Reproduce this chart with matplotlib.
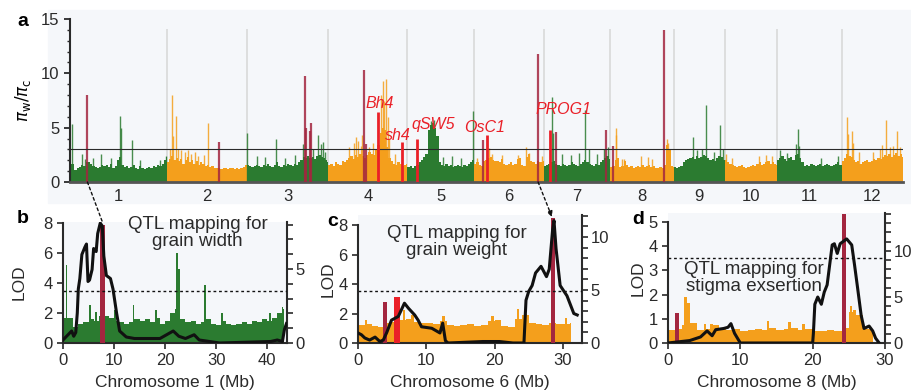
import numpy as np
import matplotlib.pyplot as plt
from matplotlib.patches import Rectangle, ConnectionPatch
from matplotlib.ticker import MultipleLocator, FuncFormatter

plt.rcParams['font.family'] = ['Liberation Sans', 'DejaVu Sans']
plt.rcParams['font.size'] = 11

GREEN = '#2b7b30'
ORANGE = '#f49f1c'
DARKRED = '#a3263f'
RED = '#ea2028'
BG = '#f5f7fa'
INK = '#2a2a2a'

# ---- genome scan data (pi_w / pi_c), 1-Mb bins plus narrow peaks ----
chrom_len = [43.3, 35.9, 36.4, 35.5, 29.9, 31.2, 29.7, 28.4, 23.0, 23.2, 29.0, 27.5]

chr1_base = [1.7, 1.7, 1.1, 1.3, 1.4, 1.6, 1.5, 1.8, 1.8, 1.7, 1.5, 1.4, 1.3, 1.4, 1.6,
             1.5, 1.6, 1.4, 1.7, 1.3, 1.5, 2.0, 2.3, 1.6, 1.4, 1.5, 1.3, 1.4, 1.6, 1.3,
             1.2, 1.5, 1.3, 1.2, 1.3, 1.4, 1.3, 1.5, 1.4, 1.6, 1.5, 1.7, 2.0, 2.3]
chr2_base = [1.8, 2.1, 2.4, 2.0, 2.2, 1.9, 2.1, 1.7, 2.0, 2.3, 1.8, 2.0, 1.7, 1.9, 1.6,
             1.8, 1.7, 1.5, 1.6, 1.4, 1.5, 1.3, 1.3, 1.3, 1.2, 1.3, 1.3, 1.2, 1.3, 1.3,
             1.2, 1.3, 1.2, 1.3, 1.4, 1.6]
chr3_base = [1.6, 1.5, 1.4, 1.5, 1.6, 1.5, 1.4, 1.6, 1.5, 1.7, 1.5, 1.4, 1.6, 1.8, 1.5,
             1.4, 1.6, 1.5, 1.7, 1.6, 1.5, 1.7, 1.6, 1.8, 2.0, 2.3, 2.2, 2.4, 2.2, 2.3,
             2.1, 2.4, 2.5, 2.3, 2.2, 2.0, 1.8]
chr4_base = [1.6, 1.7, 1.5, 1.8, 1.7, 1.6, 1.9, 1.8, 2.0, 2.2, 2.4, 2.1, 2.5, 2.3, 2.6,
             2.4, 2.2, 2.5, 2.8, 2.6, 2.5, 3.0, 3.4, 4.5, 5.0, 4.8, 3.2, 2.2, 1.9, 1.7,
             1.6, 1.8, 1.7, 1.5, 1.6, 1.7]
chr5_base = [1.4, 1.5, 1.3, 1.5, 1.6, 1.8, 2.0, 2.3, 2.6, 4.8, 5.2, 5.4, 5.0, 4.2, 1.8,
             1.6, 1.5, 1.7, 1.5, 1.6, 1.4, 1.5, 1.6, 1.5, 1.4, 1.6, 1.5, 1.7, 1.8, 2.0]
chr6_base = [1.7, 1.8, 1.6, 1.5, 1.9, 2.0, 2.2, 2.3, 2.0, 1.9, 1.9, 1.8, 2.1, 1.7, 1.6,
             1.7, 1.8, 1.6, 1.7, 2.1, 2.2, 1.6, 1.5, 2.3, 2.6, 1.9, 1.8, 1.7, 1.9, 1.8,
             1.8, 1.9]
chr7_base = [1.5, 1.6, 1.7, 1.8, 1.9, 1.7, 1.6, 1.5, 1.7, 1.6, 1.5, 1.6, 1.8, 1.7, 1.6,
             1.5, 1.7, 1.8, 2.0, 1.8, 1.7, 1.6, 1.5, 1.7, 1.6, 1.8, 2.0, 2.2, 2.4, 2.1]
chr8_base = [1.4, 1.5, 2.0, 2.2, 1.4, 1.5, 1.9, 1.6, 1.4, 1.5, 1.3, 1.4, 1.5, 1.4, 1.6,
             1.4, 1.5, 1.6, 1.4, 1.5, 1.3, 1.3, 1.4, 1.3, 1.6, 3.4, 3.0, 1.5, 1.4]
chr9_base = [1.4, 1.3, 1.4, 1.5, 1.8, 2.0, 2.1, 2.2, 2.3, 2.1, 2.4, 2.2, 2.3, 2.5, 2.4,
             2.2, 2.0, 2.1, 1.9, 2.2, 2.4, 2.3, 2.0]
chr10_base = [2.0, 1.8, 1.7, 1.6, 1.5, 1.4, 1.5, 1.6, 1.4, 1.3, 1.4, 1.5, 1.6, 1.5, 1.7,
              1.8, 1.6, 1.7, 1.8, 1.9, 1.7, 1.8, 1.7, 1.6]
chr11_base = [2.0, 2.2, 2.4, 2.1, 1.9, 2.2, 2.3, 2.0, 2.5, 2.6, 2.2, 1.8, 1.5, 1.6, 1.5,
              1.7, 1.6, 1.5, 1.6, 1.7, 1.5, 1.6, 1.7, 1.6, 1.5, 1.6, 1.7, 1.8, 1.6]
chr12_base = [1.9, 2.2, 2.6, 2.4, 2.3, 2.0, 1.8, 1.9, 1.7, 1.8, 1.9, 2.0, 1.8, 1.9, 2.1,
              2.0, 2.2, 2.1, 2.3, 2.5, 2.4, 2.6, 2.3, 2.5, 2.7, 2.4, 2.6, 2.3]

chr1_peaks = [(0.7, 5.3), (5.3, 2.6), (6.5, 2.1), (10.2, 2.2), (13.8, 2.6), (18.3, 2.2),
              (22.4, 6.1), (22.8, 5.0), (27.8, 3.9), (31.2, 2.0), (40.5, 2.0), (43.0, 2.4)]
chr2_peaks = [(1.5, 3.0), (2.2, 8.0), (3.0, 4.2), (4.0, 6.1), (5.2, 3.0), (6.5, 2.9),
              (8.0, 2.8), (9.5, 2.9), (11.0, 2.6), (12.5, 2.8), (14.0, 2.4), (16.5, 2.5),
              (18.3, 5.4)]
chr3_peaks = [(0.2, 4.5), (4.5, 2.4), (8.0, 2.3), (13.0, 4.0), (17.0, 2.2), (21.5, 2.5),
              (25.0, 3.5), (29.5, 3.0), (32.0, 4.3), (33.0, 3.5), (34.0, 3.7), (35.0, 2.8)]
chr4_peaks = [(9.5, 3.2), (11.5, 3.6), (12.6, 4.1), (13.5, 3.8), (14.5, 3.3), (15.2, 4.3),
              (18.5, 3.2), (20.0, 3.6), (23.8, 8.0), (24.6, 9.3), (25.2, 7.5), (26.0, 9.5),
              (26.6, 6.0), (27.3, 4.0), (30.0, 2.6)]
chr5_peaks = [(10.5, 5.6), (12.0, 5.7), (16.0, 2.3), (20.0, 2.4), (24.0, 2.2), (29.2, 6.5)]
chr6_peaks = [(1.2, 2.2), (6.7, 3.1), (8.0, 2.6), (12.5, 2.5), (19.7, 2.5), (23.4, 3.2),
              (24.5, 2.7), (30.5, 2.4)]
chr7_peaks = [(3.7, 7.8), (4.3, 4.5), (8.0, 2.6), (12.0, 2.5), (15.5, 2.7), (18.3, 6.6),
              (20.0, 3.0), (24.0, 2.6), (27.0, 3.0), (28.5, 3.2)]
chr8_peaks = [(2.4, 5.0), (2.8, 4.3), (5.1, 2.1), (6.0, 2.1), (13.8, 2.4), (16.8, 2.3),
              (18.7, 2.1), (25.3, 4.0), (25.8, 3.6)]
chr9_peaks = [(8.5, 4.1), (10.3, 2.9), (12.5, 3.0), (14.3, 7.1), (18.0, 2.8), (20.6, 5.2),
              (22.0, 3.0)]
chr10_peaks = [(0.5, 2.6), (3.0, 2.2), (15.0, 2.4), (18.5, 2.5), (21.0, 2.4)]
chr11_peaks = [(1.5, 2.9), (4.5, 2.7), (8.5, 3.5), (9.4, 4.9), (10.0, 3.3), (20.0, 2.2),
               (27.5, 2.4)]
chr12_peaks = [(2.3, 6.0), (3.0, 4.4), (4.5, 4.7), (5.2, 3.6), (8.0, 2.8), (14.0, 2.8),
               (17.0, 3.0), (18.3, 3.4), (19.7, 5.7), (21.5, 3.2), (23.0, 3.3), (24.6, 4.7),
               (26.0, 3.2)]

all_base = [chr1_base, chr2_base, chr3_base, chr4_base, chr5_base, chr6_base,
            chr7_base, chr8_base, chr9_base, chr10_base, chr11_base, chr12_base]
all_peaks = [chr1_peaks, chr2_peaks, chr3_peaks, chr4_peaks, chr5_peaks, chr6_peaks,
             chr7_peaks, chr8_peaks, chr9_peaks, chr10_peaks, chr11_peaks, chr12_peaks]

# QTL peaks (dark red) and cloned domestication genes (red)
qtl_chrom = [1, 2, 3, 3, 3, 3, 4, 4, 6, 6, 7, 7, 8, 8]
qtl_pos = [7.8, 23.3, 26.0, 26.3, 28.2, 28.6, 16.1, 17.0, 4.0, 28.6, 5.3, 27.8, 1.2, 24.3]
qtl_height = [8.0, 3.7, 9.8, 5.0, 4.7, 5.4, 10.3, 3.5, 3.9, 11.8, 4.6, 4.8, 3.3, 14.0]

gene_names = ['Bh4', 'sh4', 'qSW5', 'OsC1', 'PROG1']
gene_chrom = [4, 4, 5, 6, 7]
gene_pos = [22.4, 33.2, 4.5, 5.7, 2.6]
gene_height = [6.4, 3.7, 4.0, 4.3, 4.8]

# LOD profiles
lod1_pos = [0, 0.7, 1.7, 2.1, 2.5, 2.8, 3.0, 3.3, 3.7, 4.3, 4.6, 4.9, 5.2, 5.7, 6.0, 6.5,
            6.8, 7.3, 7.7, 8.0, 8.5, 9.3, 9.8, 10.5, 11.1, 12.4, 14.0, 19.0, 21.6, 22.7,
            24.0, 25.7, 26.7, 28.7, 30.7, 40.7, 42.0, 43.0, 43.4, 43.8]
lod1 = [0.2, 0.45, 0.8, 0.45, 0.7, 2.0, 3.6, 4.3, 5.9, 6.4, 6.6, 4.1, 4.2, 4.9, 6.3, 6.1,
        7.3, 8.0, 7.8, 5.8, 4.5, 4.3, 3.6, 2.0, 0.8, 0.4, 0.3, 0.3, 0.8, 0.45,
        0.3, 0.55, 0.2, 0.1, 0.0, 0.1, 0.2, 0.1, 0.9, 1.3]
lod6_pos = [0, 0.5, 1.0, 1.7, 2.5, 3.2, 3.7, 4.2, 4.9, 5.9, 6.8, 7.4, 8.3, 8.8, 9.3, 10.8,
            12.0, 12.4, 12.8, 13.2, 18.3, 20.7, 22.7, 24.3, 24.6, 25.0, 25.5, 26.0, 26.8,
            27.6, 28.0, 28.5, 28.7, 29.0, 29.6, 30.6, 31.6, 32.1]
lod6 = [0.68, 0.56, 0.34, 0.2, 0.4, 0.1, 0.2, 0.7, 1.55, 1.8, 2.7, 2.35, 1.9, 1.55, 1.1,
        1.0, 0.68, 1.35, 0.15, 0.0, 0.1, 0.1, 0.0, 0.0, 2.9, 3.5, 3.9, 4.75, 5.2,
        4.5, 5.0, 7.7, 8.3, 6.4, 3.9, 3.2, 2.0, 1.9]
lod8_pos = [0, 3.0, 4.5, 5.4, 6.1, 6.6, 7.7, 8.3, 8.7, 9.2, 10.0, 20.0, 20.1, 20.3, 20.7,
            21.2, 21.6, 22.0, 22.7, 23.0, 23.4, 23.8, 24.7, 25.4, 25.8, 26.2, 26.7, 27.1,
            27.8, 28.3, 28.7, 29.2]
lod8 = [0.0, 0.1, 0.25, 0.5, 0.3, 0.55, 0.6, 0.65, 0.8, 0.4, 0.0, 0.0, 0.4, 1.6, 1.9,
        1.6, 2.1, 2.4, 4.05, 4.1, 3.7, 4.1, 4.3, 4.05, 3.2, 2.3, 1.15, 0.6,
        0.7, 0.5, 0.2, 0.0]


def draw_scan(ax, base, peaks, length, color, offset=0.0, peak_w=None):
    edges = np.arange(len(base) + 1, dtype=float)
    edges[-1] = length
    ax.stairs(base, edges + offset, fill=True, color=color, lw=0, zorder=2)
    pos = np.array([p[0] for p in peaks]) + offset
    hts = [p[1] for p in peaks]
    if peak_w is None:
        ax.vlines(pos, 0, hts, color=color, lw=1.0, alpha=0.85, zorder=2)
    else:
        ax.bar(pos, hts, width=peak_w, color=color, lw=0, zorder=2)


fig = plt.figure(figsize=(9.12, 3.91), dpi=100)
W, H = 912.0, 391.0


def px_axes(left, top, right, bottom):
    return fig.add_axes([left / W, 1 - bottom / H, (right - left) / W, (bottom - top) / H])


bg = Rectangle((48 / W, 1 - 203 / H), (912 - 48) / W, 193 / H,
               transform=fig.transFigure, color=BG, zorder=-10)
fig.add_artist(bg)

# ---------------- panel a ----------------
offsets = np.concatenate([[0], np.cumsum(chrom_len)[:-1]])
axa = px_axes(70, 19, 903, 182)
axa.patch.set_visible(False)
for i in range(12):
    col = GREEN if i % 2 == 0 else ORANGE
    draw_scan(axa, all_base[i], all_peaks[i], chrom_len[i], col, offsets[i])
    axa.text(offsets[i] + chrom_len[i] / 2, -1.3, str(i + 1), ha='center', va='center',
             fontsize=12, color=INK)
axa.vlines(offsets[1:], 0, 14.1, color='#d9d9d9', lw=1.2, zorder=1)
qx = np.array([offsets[c - 1] for c in qtl_chrom]) + np.array(qtl_pos)
axa.vlines(qx, 0, qtl_height, color=DARKRED, lw=1.6, alpha=0.85, zorder=3)
axa.axhline(3, color=INK, lw=0.8, zorder=4)
gx = np.array([offsets[c - 1] for c in gene_chrom]) + np.array(gene_pos)
axa.vlines(gx, 0, gene_height, color=RED, lw=2.0, zorder=5)
label_dx = [0.8, -2.0, 7.0, -1.0, 6.4]
label_y = [7.2, 4.3, 5.3, 5.0, 6.7]
for name, x, dx, y in zip(gene_names, gx, label_dx, label_y):
    axa.text(x + dx, y, name, color=RED, style='italic', fontsize=11.5,
             ha='center', va='center', zorder=6)
axa.set_xlim(0, sum(chrom_len))
axa.set_ylim(0, 15)
axa.set_xticks([])
axa.yaxis.set_major_locator(MultipleLocator(5))
axa.yaxis.set_minor_locator(MultipleLocator(1))
axa.tick_params(axis='y', which='major', direction='out', length=4, width=1.3,
                labelsize=12, colors=INK)
axa.tick_params(axis='y', which='minor', direction='out', length=2.5, width=1, colors=INK)
for s in ['top', 'right']:
    axa.spines[s].set_visible(False)
axa.spines['left'].set_linewidth(1.5)
axa.spines['left'].set_color(INK)
axa.spines['bottom'].set_linewidth(2)
axa.spines['bottom'].set_color('#555555')
axa.set_ylabel(r'$\pi_\mathrm{w}/\pi_\mathrm{c}$', fontsize=12, labelpad=6)


# ---------------- panels b-d ----------------
def qtl_panel(box, chrom, lod_pos, lod, xmax, lod_top, lod_max, lod_step, right_top,
              title, tx, ty, ylabpad, bar_w):
    ax = px_axes(*box)
    ax.set_facecolor(BG)
    i = chrom - 1
    draw_scan(ax, all_base[i], all_peaks[i], chrom_len[i], ORANGE if i % 2 else GREEN,
              peak_w=0.35)
    for c, p, h in zip(qtl_chrom, qtl_pos, qtl_height):
        if c == chrom:
            ax.bar(p, h, width=bar_w, color=DARKRED, lw=0, zorder=3)
    for c, p, h in zip(gene_chrom, gene_pos, gene_height):
        if c == chrom:
            ax.bar(p, h, width=bar_w * 1.3, color=RED, lw=0, zorder=3)
    ax.set_xlim(0, xmax)
    ax.set_ylim(0, right_top)

    al = ax.twinx()
    al.patch.set_visible(False)
    al.plot(lod_pos, lod, color='#111111', lw=2.2, zorder=5, solid_joinstyle='round')
    al.axhline(3.5, color='#111111', lw=1.0, ls=(0, (2, 2)))
    al.set_ylim(0, lod_top)
    al.yaxis.tick_left()
    al.yaxis.set_label_position('left')
    al.set_yticks(np.arange(0, lod_max + 0.01, lod_step))
    al.tick_params(direction='out', length=4, width=1.2, labelsize=12, colors=INK)
    for s in ['top', 'right', 'bottom']:
        al.spines[s].set_visible(False)
    al.spines['left'].set_bounds(0, lod_max)
    al.spines['left'].set_linewidth(1.5)
    al.spines['left'].set_color(INK)
    al.set_ylabel('LOD', fontsize=12.5, color=INK, labelpad=ylabpad)
    al.text(tx, ty, title, transform=al.transAxes, ha='center', va='center',
            fontsize=13.5, color=INK, linespacing=1.0, zorder=6)

    # right-hand scale for the diversity ratio (set after twinx, which resets it)
    ax.yaxis.tick_right()
    ax.yaxis.set_label_position('right')
    ax.yaxis.set_major_locator(MultipleLocator(1))
    ax.yaxis.set_major_formatter(FuncFormatter(lambda v, p: '%d' % v if v % 5 == 0 else ''))
    ax.xaxis.set_major_locator(MultipleLocator(10))
    ax.tick_params(direction='out', length=4, width=1.2, labelsize=12, colors=INK)
    ax.tick_params(axis='y', pad=2)
    for s in ['top', 'left']:
        ax.spines[s].set_visible(False)
    for s in ['right', 'bottom']:
        ax.spines[s].set_linewidth(1.5)
        ax.spines[s].set_color(INK)
    ax.set_xlabel('Chromosome %d (Mb)' % chrom, fontsize=12.5, color=INK, labelpad=5)
    return ax, al


axb, alb = qtl_panel((63, 222, 287, 343), 1, lod1_pos, lod1, 43.9, 8.07, 8, 2, 8.18,
                     'QTL mapping for\ngrain width', 0.6, 0.905, 12, 1.0)
axc, alc = qtl_panel((358, 215, 582, 343), 6, lod6_pos, lod6, 32.8, 8.68, 8, 2, 12.07,
                     'QTL mapping for\ngrain weight', 0.44, 0.79, 2, 0.6)
axd, ald = qtl_panel((668, 213, 885, 343), 8, lod8_pos, lod8, 30, 5.37, 5, 1, 14.1,
                     'QTL mapping for\nstigma exsertion', 0.395, 0.5, 2, 0.6)

# dotted connectors from the genome scan to the QTL panels
dots = dict(color='#111111', lw=1.0, ls=(0, (2, 2)))
fig.add_artist(ConnectionPatch((offsets[0] + 7.8, 0), (7.8, 8.0), 'data', 'data',
                               axesA=axa, axesB=alb, **dots))
fig.add_artist(ConnectionPatch((offsets[5] + 28.6, 0), (28.4, 8.55), 'data', 'data',
                               axesA=axa, axesB=alc, arrowstyle='-|>', mutation_scale=8,
                               **dots))
fig.add_artist(ConnectionPatch((offsets[7] + 24.3, 0), (offsets[7] + 24.3, -1.65), 'data',
                               'data', axesA=axa, axesB=axa, **dots))
fig.add_artist(ConnectionPatch((offsets[7] + 24.3, -1.65), (24.0, 4.45), 'data', 'data',
                               axesA=axa, axesB=ald, arrowstyle='-|>', mutation_scale=8,
                               **dots))

for lab, x, y in [('a', 17, 22), ('b', 17, 218), ('c', 327, 222), ('d', 632, 219)]:
    fig.text(x / W, 1 - y / H, lab, fontsize=14, fontweight='bold', ha='left', va='center')

fig.savefig('out.png', dpi=100)
